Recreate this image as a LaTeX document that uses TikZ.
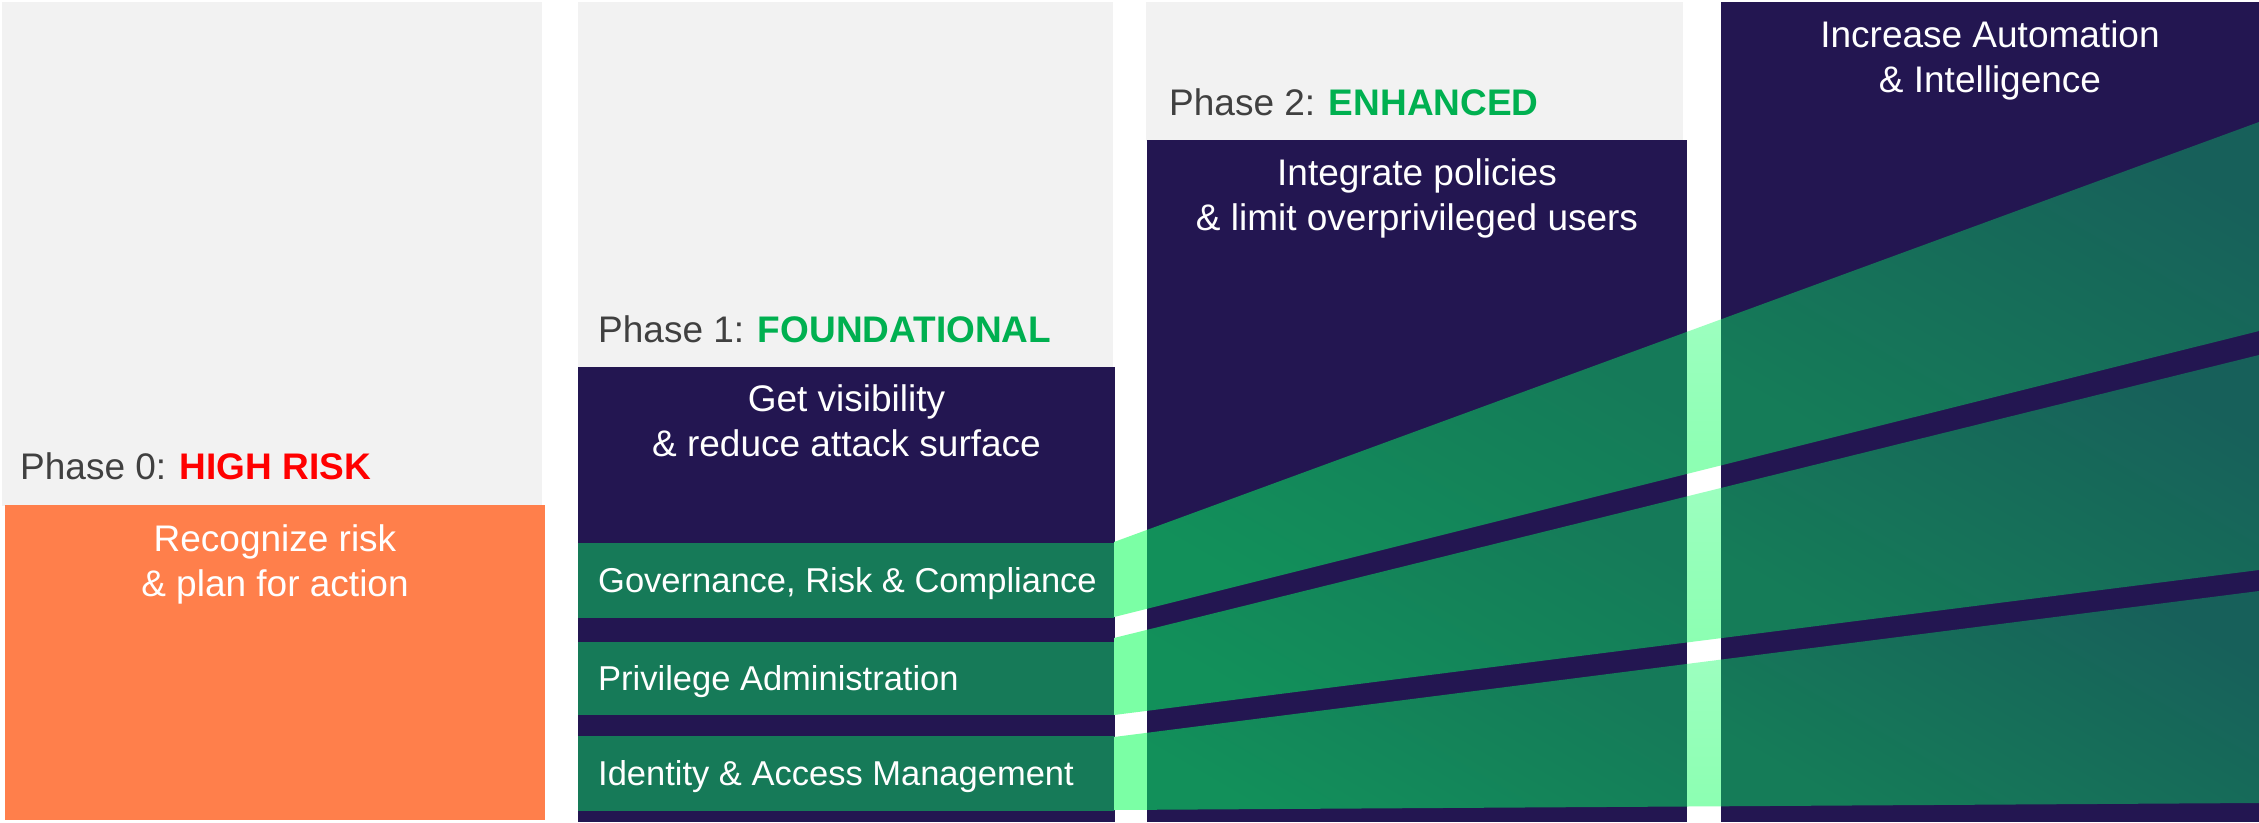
\documentclass[tikz,border=0pt]{standalone}
\usepackage{fontspec}
\setmainfont{Liberation Sans}
\usetikzlibrary{calc}
\definecolor{navy}{HTML}{231651}
\definecolor{panelgrey}{HTML}{F2F2F2}
\definecolor{riskorange}{HTML}{FF7F4B}
\definecolor{rowgreen}{HTML}{167A58}
\definecolor{gapgreenA}{HTML}{7BFFA5}
\definecolor{gapgreenBtop}{HTML}{9CFFBF}
\definecolor{gapgreenBbot}{HTML}{8CFFB2}
\definecolor{hdrgrey}{HTML}{404040}
\definecolor{hdrred}{HTML}{FF0000}
\definecolor{hdrgreen}{HTML}{00B050}
\definecolor{ctwoLo}{HTML}{12905A}
\definecolor{ctwoHi}{HTML}{157A59}
\definecolor{cthreeLo}{HTML}{157C58}
\definecolor{cthreeHi}{HTML}{17605A}
\begin{document}
\begin{tikzpicture}[x=1pt,y=-1pt,
  boxtext/.style={text=white, font=\fontsize{37}{45}\selectfont, align=center, inner sep=0pt, anchor=center},
  hdr/.style={text=hdrgrey, font=\fontsize{37}{45}\selectfont, inner sep=0pt, anchor=base west},
  rowbox/.style={fill=rowgreen, draw=none, minimum width=536pt, inner sep=0pt, anchor=north west},
  rowlabel/.style={text=white, font=\fontsize{34.5}{40}\selectfont, inner sep=0pt, anchor=base west},
  coltwo/.style={top color=ctwoHi, bottom color=ctwoLo, shading angle=-30},
  colthree/.style={top color=cthreeHi, bottom color=cthreeLo, shading angle=-30},
  gaptwo/.style={top color=gapgreenBtop, bottom color=gapgreenBbot}]
\useasboundingbox (0,0) rectangle (2259,822);
\fill[white] (0,0) rectangle (2259,822);
% column 0
\fill[panelgrey] (2,2) rectangle (542,506);
\fill[riskorange] (5,505) rectangle (545,820);
% column 1
\fill[panelgrey] (578,2) rectangle (1113,368);
\fill[navy] (578,367) rectangle (1115,822);
% column 2
\fill[panelgrey] (1146,2) rectangle (1683,141);
\fill[navy] (1147,140) rectangle (1687,822);
% column 3
\fill[navy] (1721,2) rectangle (2259,822);
% band edges
\coordinate (b1-tl) at (1114,542); \coordinate (b1-tr) at (2259,122);
\coordinate (b1-bl) at (1114,617); \coordinate (b1-br) at (2259,331);
\coordinate (b2-tl) at (1114,638); \coordinate (b2-tr) at (2259,355);
\coordinate (b2-bl) at (1114,715); \coordinate (b2-br) at (2259,570);
\coordinate (b3-tl) at (1114,737); \coordinate (b3-tr) at (2259,591);
\coordinate (b3-bl) at (1114,810); \coordinate (b3-br) at (2259,803);
\def\tA{0.02882}\def\tB{0.50044}\def\tC{0.53013}
\foreach \b in {1,2,3}{
  \fill[gapgreenA] (b\b-tl) -- ($(b\b-tl)!\tA!(b\b-tr)$) -- ($(b\b-bl)!\tA!(b\b-br)$) -- (b\b-bl) -- cycle;
  \shade[coltwo] ($(b\b-tl)!\tA!(b\b-tr)$) -- ($(b\b-tl)!\tB!(b\b-tr)$) -- ($(b\b-bl)!\tB!(b\b-br)$) -- ($(b\b-bl)!\tA!(b\b-br)$) -- cycle;
  \shade[gaptwo] ($(b\b-tl)!\tB!(b\b-tr)$) -- ($(b\b-tl)!\tC!(b\b-tr)$) -- ($(b\b-bl)!\tC!(b\b-br)$) -- ($(b\b-bl)!\tB!(b\b-br)$) -- cycle;
  \shade[colthree] ($(b\b-tl)!\tC!(b\b-tr)$) -- (b\b-tr) -- (b\b-br) -- ($(b\b-bl)!\tC!(b\b-br)$) -- cycle;
}
% row boxes in column 1
\node[rowbox, minimum height=75pt] (grcbox) at (578,543) {};
\node[rowbox, minimum height=73pt] (pabox) at (578,642) {};
\node[rowbox, minimum height=75pt] (iambox) at (578,736) {};
\node[rowlabel] (grc) at ([xshift=20pt,yshift=-11.5pt]grcbox.west) {Governance, Risk \& Compliance};
\node[rowlabel] (pa) at ([xshift=20pt,yshift=-11.5pt]pabox.west) {Privilege Administration};
\node[rowlabel] (iam) at ([xshift=20pt,yshift=-11.5pt]iambox.west) {Identity \& Access Management};
% headers
\node[hdr] (p0) at (20,479) {Phase 0: \textcolor{hdrred}{\bfseries HIGH RISK}};
\node[hdr] (p1) at (598,342) {Phase 1: \textcolor{hdrgreen}{\bfseries FOUNDATIONAL}};
\node[hdr] (p2) at (1169,115.5) {Phase 2: \textcolor{hdrgreen}{\bfseries ENHANCED}};
% box texts
\node[boxtext] (t0) at (275,564.9) {Recognize risk\\\& plan for action};
\node[boxtext] (t1) at (846.5,421) {Get visibility\\\& reduce attack surface};
\node[boxtext] (t2) at (1417,198.9) {Integrate policies\\\& limit overprivileged users};
\node[boxtext] (t3) at (1990,60.9) {Increase Automation\\\& Intelligence};
\end{tikzpicture}
\end{document}
